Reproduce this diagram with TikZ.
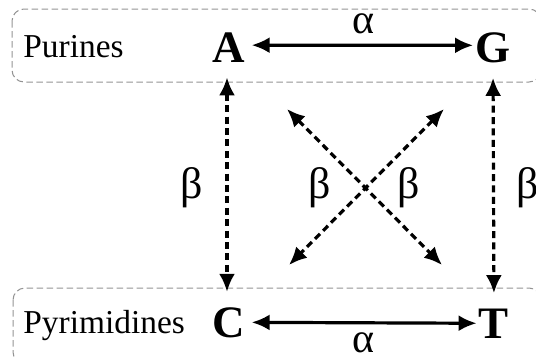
\documentclass[tikz,border=0pt]{standalone}
\usepackage{fontspec}
\setmainfont{Liberation Serif}
\usetikzlibrary{arrows.meta}

\begin{document}
\begin{tikzpicture}[x=0.5pt, y=-0.5pt,
  group/.style={draw=gray!85, dash pattern=on 3.3pt off 1.7pt, line width=0.5pt, rounded corners=6pt},
  grouplabel/.style={font=\fontsize{16.7}{20}\selectfont, anchor=base west, inner sep=0pt},
  base/.style={font=\fontsize{22.5}{26}\selectfont\bfseries, anchor=base, inner sep=0pt},
  rate/.style={font=\fontsize{21}{25}\selectfont, anchor=base, inner sep=0pt},
  link/.style={line width=1.6pt, {Latex[length=9pt,width=8pt]}-{Latex[length=9pt,width=8pt]}},
  swap/.style={link, dash pattern=on 3.5pt off 2.2pt}]
\useasboundingbox (0,0) rectangle (536,359);
\clip (0,0) rectangle (536,359);

% purine and pyrimidine groups
\draw[group] (12,9) rectangle (541,82);
\draw[group] (13,288) rectangle (541,364);
\node[grouplabel] (purines) at (23,57) {Purines};
\node[grouplabel] (pyrimidines) at (23,333) {Pyrimidines};

% bases
\node[base] (A) at (229,62) {A};
\node[base] (G) at (493,62) {G};
\node[base] (C) at (229,337) {C};
\node[base] (T) at (494,338) {T};

% transitions
\draw[link, shorten <=3pt, shorten >=1pt] ([yshift=1pt]A.east) -- ([yshift=1pt]G.west);
\draw[link, shorten <=3pt, shorten >=1pt] (C.east) -- (T.west);
\node[rate] (a1) at (363,33) {α};
\node[rate] (a2) at (363,352) {α};

% transversions
\draw[swap, shorten <=7.5pt, shorten >=7.5pt] ([xshift=-1pt]A.south) -- ([xshift=-1pt]C.north);
\draw[swap, shorten <=7.5pt, shorten >=7.5pt] (G.south) -- (T.north);
\coordinate (x1) at (287,109);
\coordinate (x2) at (444,109);
\coordinate (x3) at (289,265);
\coordinate (x4) at (442,265);
\draw[swap] (x1) -- (x4);
\draw[swap] (x2) -- (x3);
\node[rate, font=\fontsize{22}{26}\selectfont] (b1) at (192,198) {β};
\node[rate, font=\fontsize{22}{26}\selectfont] (b2) at (320,198) {β};
\node[rate, font=\fontsize{22}{26}\selectfont] (b3) at (409,198) {β};
\node[rate, font=\fontsize{22}{26}\selectfont] (b4) at (528,198) {β};
\end{tikzpicture}
\end{document}
